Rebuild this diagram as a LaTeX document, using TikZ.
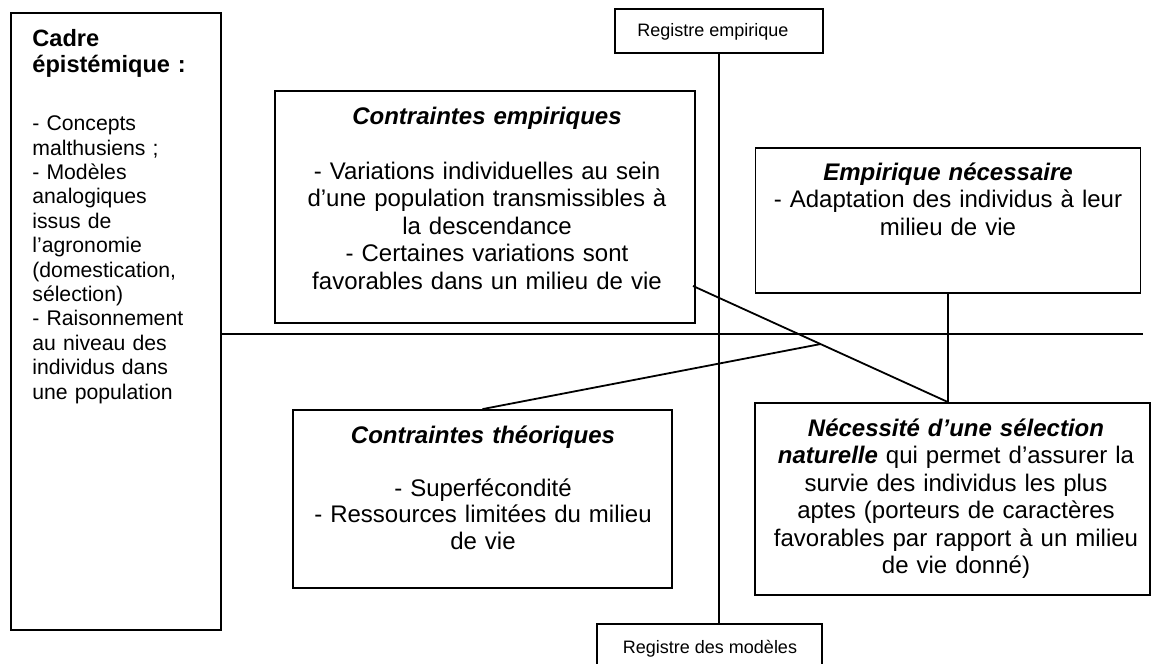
\documentclass[tikz,border=0pt]{standalone}
\usepackage{fontspec}
\setmainfont{Liberation Sans}
\usetikzlibrary{calc}

\begin{document}
\begin{tikzpicture}[x=0.5pt, y=-0.5pt,
  frame/.style={draw, line width=0.9pt, inner sep=0pt},
  txt/.style={anchor=base, align=center, inner sep=0pt, text width=200pt, font=\fontsize{12}{13.75}\selectfont},
  side/.style={anchor=base west, align=left, inner sep=0pt, text width=90pt},
  reg/.style={anchor=base, inner sep=0pt, font=\fontsize{9}{11}\selectfont},
  conn/.style={line width=0.9pt}]
\fill[white] (0,0) rectangle (1152,664);
\useasboundingbox (0,0) rectangle (1152,664);

% frames
\node[frame, minimum width=105pt, minimum height=308.5pt] (cadre) at (116,321.5) {};
\node[frame, minimum width=104pt, minimum height=22pt] (regemp) at (719,31) {};
\node[frame, minimum width=112.5pt, minimum height=24pt] (regmod) at (709.5,648) {};
\node[frame, minimum width=210pt, minimum height=116pt] (ctemp) at (485,207) {};
\node[frame, minimum width=192.5pt, minimum height=72.5pt] (empnec) at (948,220.5) {};
\node[frame, minimum width=189.5pt, minimum height=89pt] (cttheo) at (482.5,499) {};
\node[frame, minimum width=197.5pt, minimum height=96pt] (selnat) at (952.5,499) {};

% texts
\node[side, font=\bfseries\fontsize{11.8}{13}\selectfont] (cadre-t) at (32,46.7) {Cadre\\épistémique :};
\node[side, font=\fontsize{10.6}{12.2}\selectfont] (cadre-b) at (32,130.7)
  {- Concepts\\malthusiens ;\\- Modèles\\analogiques\\issus de\\l’agronomie\\(domestication,\\sélection)\\- Raisonnement\\au niveau des\\individus dans\\une population};
\node[reg] (regemp-t) at (713,36) {Registre empirique};
\node[reg] (regmod-t) at (710,653) {Registre des modèles};
\node[txt] (ctemp-t) at (487,124)
  {\textbf{\textit{Contraintes empiriques}}\\[13.75pt]- Variations individuelles au sein\\d’une population transmissibles à\\la descendance\\- Certaines variations sont\\favorables dans un milieu de vie};
\node[txt] (empnec-t) at (948,180)
  {\textbf{\textit{Empirique nécessaire}}\\- Adaptation des individus à leur\\milieu de vie};
\node[txt, font=\fontsize{12}{13.25}\selectfont] (cttheo-t) at (483,443)
  {\textbf{\textit{Contraintes théoriques}}\\[13.25pt]- Superfécondité\\- Ressources limitées du milieu\\de vie};
\node[txt] (selnat-t) at (956,436)
  {\textbf{\textit{Nécessité d’une sélection}}\\\textbf{\textit{naturelle}} qui permet d’assurer la\\survie des individus les plus\\aptes (porteurs de caractères\\favorables par rapport à un milieu\\de vie donné)};

% connectors
\coordinate (dstart) at (693,286);
\coordinate (meet) at (empnec.south |- selnat.north);
\coordinate (hend) at (1143,334);
\draw[conn] (regemp.south) -- (regemp.south |- regmod.north);
\draw[conn] (cadre.east |- hend) -- (hend);
\draw[conn] (empnec.south) -- (meet);
\draw[conn] (dstart) -- (meet);
\draw[conn] (cttheo.north) -- ($(dstart)!0.5!(meet)$);
\end{tikzpicture}
\end{document}
